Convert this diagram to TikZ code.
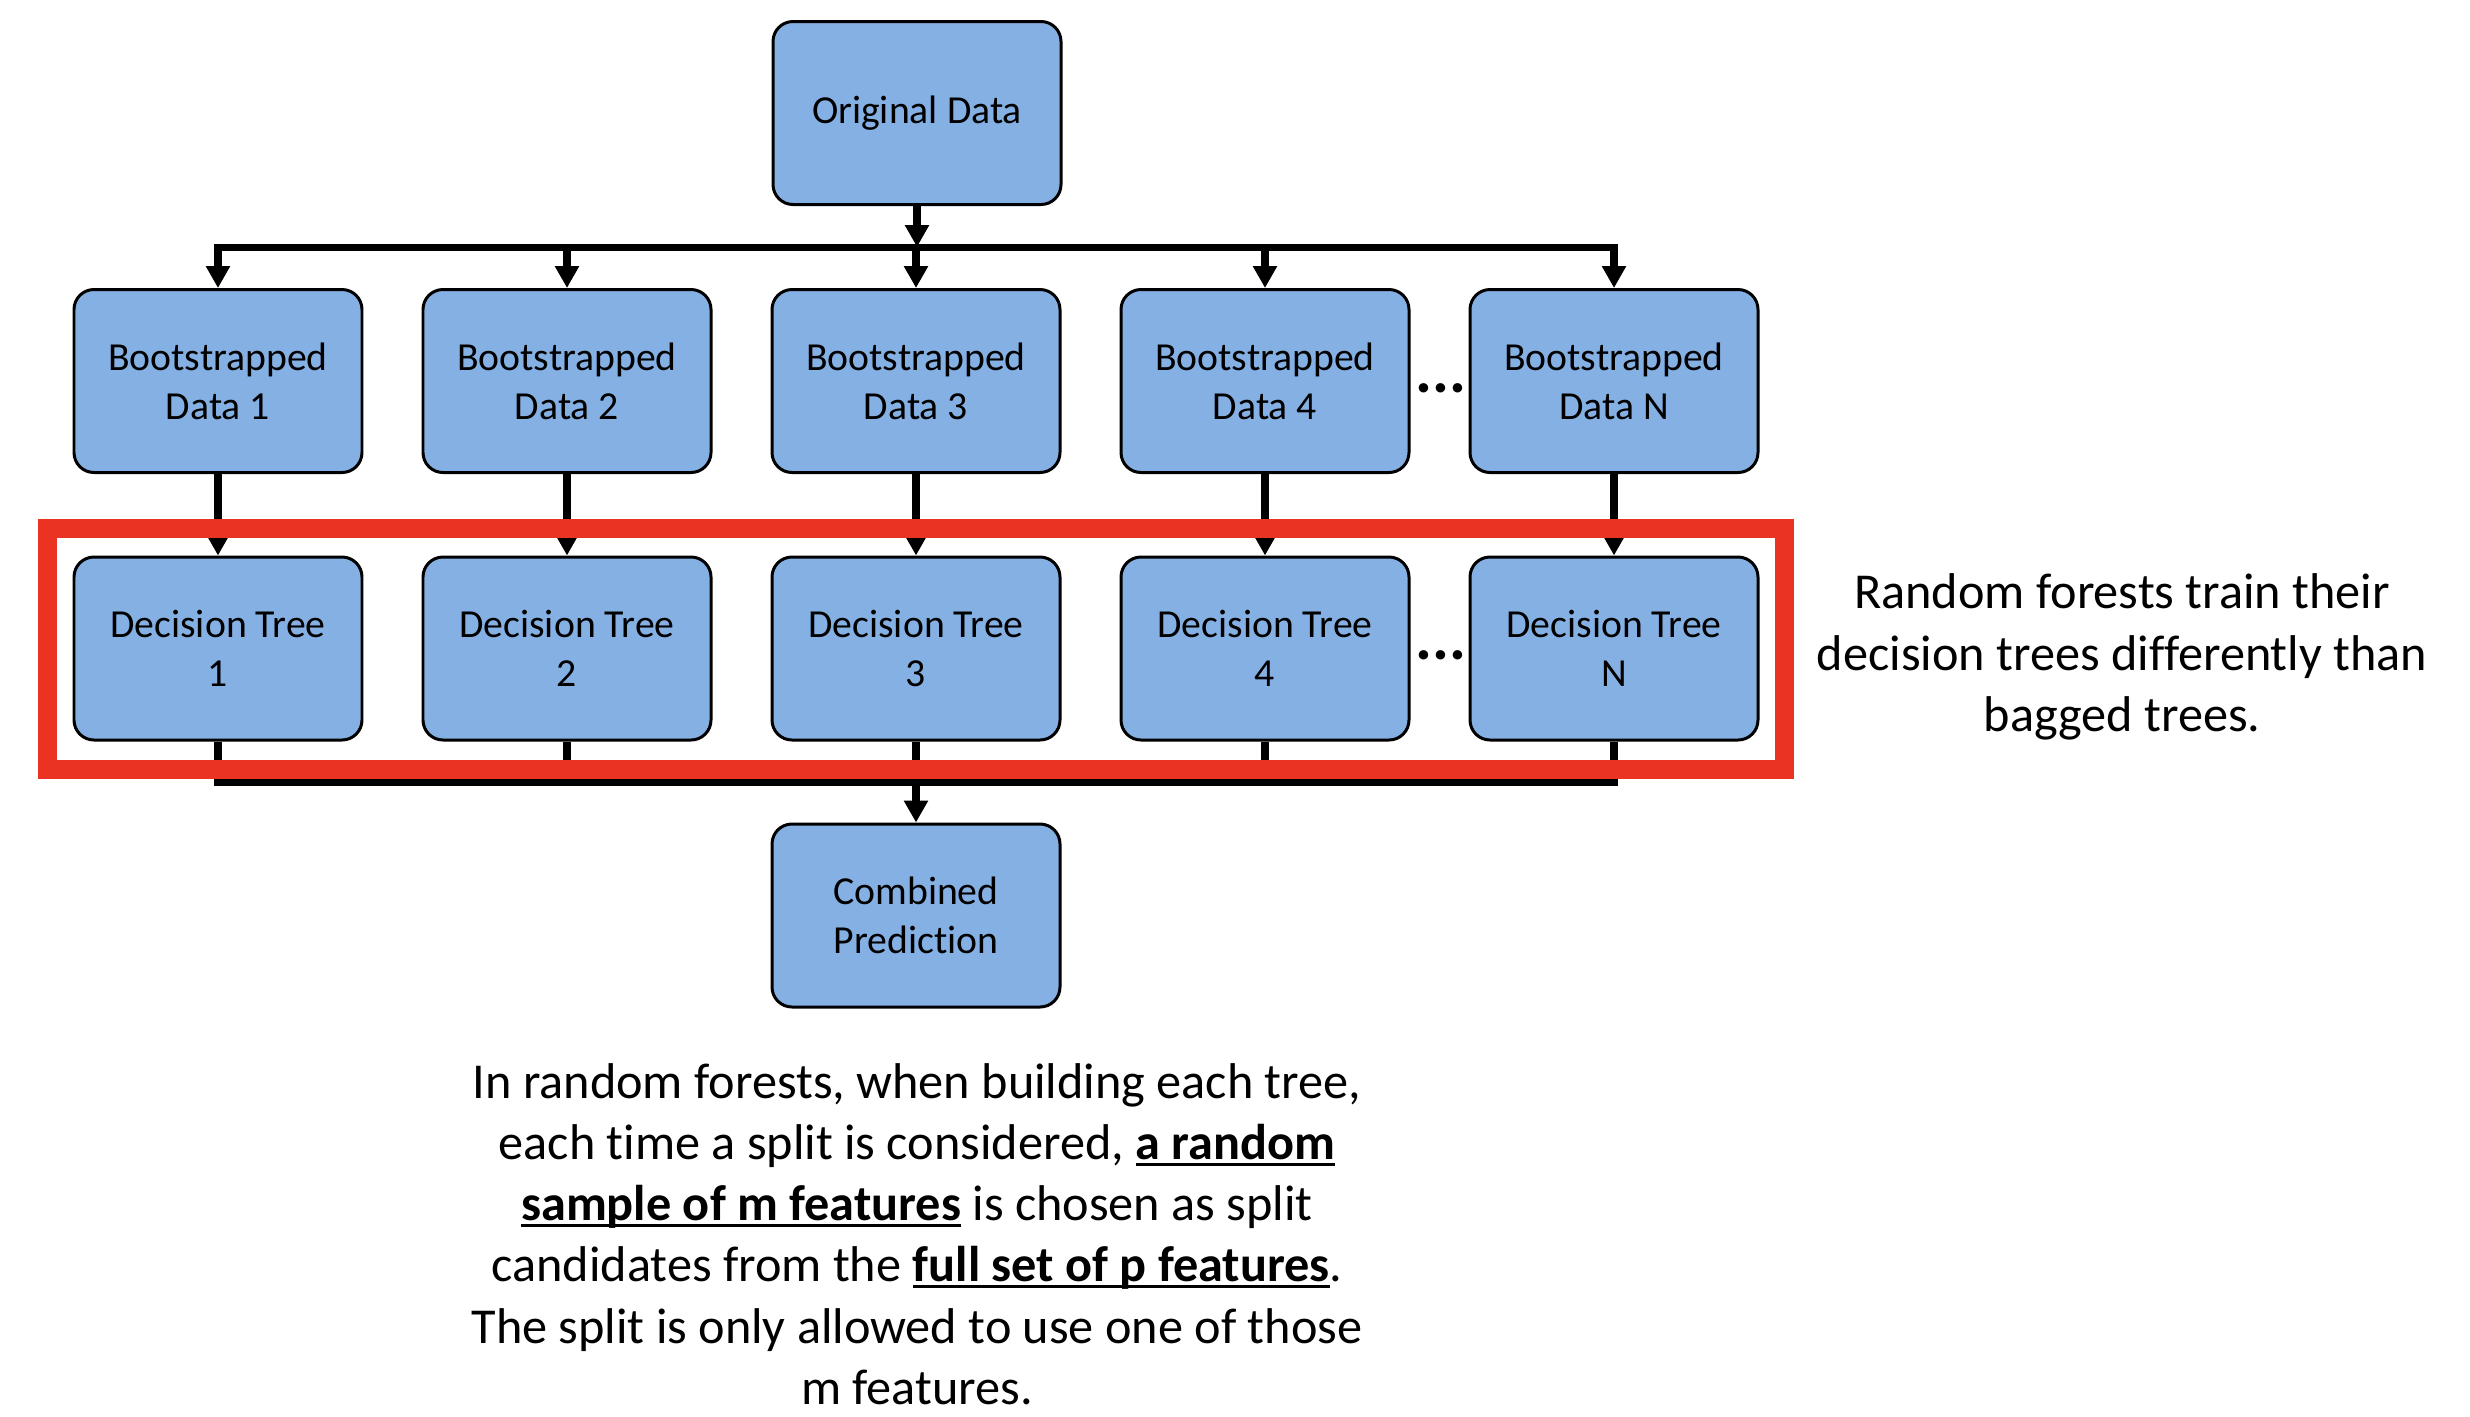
\documentclass[tikz,border=0pt]{standalone}
\usepackage{fontspec}
\setmainfont{Carlito}[Ligatures=NoCommon]
\usepackage{xcolor}
\usetikzlibrary{arrows.meta}
\definecolor{boxblue}{RGB}{133,176,227}
\definecolor{framered}{RGB}{234,51,35}
\newcommand{\bul}[1]{\leavevmode\setbox0\hbox{\textbf{#1}}\rlap{\rule[-0.13em]{\wd0}{0.9pt}}\box0\relax}
\tikzset{
  blk/.style={rectangle, rounded corners=0.2cm, line width=0.85pt, align=center,
              font=\fontsize{11.3}{13.9}\selectfont, inner sep=0pt},
  blueb/.style={blk, draw=black, fill=boxblue},
  pipe/.style={-{Triangle[length=2.2mm, width=2.3mm]}, line width=2pt, draw=black},
  wire/.style={line width=2pt, draw=black, line cap=rect},
  redframe/.style={draw=framered, line width=0.19cm},
  note/.style={align=center, font=\fontsize{14.3}{17.4}\selectfont, inner sep=0pt},
  gapdots/.style={font=\fontsize{18}{18}\selectfont\bfseries, inner sep=0pt},
}

\begin{document}
\begin{tikzpicture}[s/.style={minimum width=2.88cm, minimum height=1.83cm}]
  \useasboundingbox (0,0) rectangle (24.7,-14.16);
  \node[blueb, s] (orig) at (9.17,-1.13) {Original Data};
  \node[blueb, s] (boot1) at (2.18,-3.81)  {Bootstrapped\\Data 1};
  \node[blueb, s] (boot2) at (5.67,-3.81)  {Bootstrapped\\Data 2};
  \node[blueb, s] (boot3) at (9.16,-3.81)  {Bootstrapped\\Data 3};
  \node[blueb, s] (boot4) at (12.65,-3.81) {Bootstrapped\\Data 4};
  \node[blueb, s] (bootN) at (16.14,-3.81) {Bootstrapped\\Data N};
  \node[blueb, s] (tree1) at (2.18,-6.485)  {Decision Tree\\1};
  \node[blueb, s] (tree2) at (5.67,-6.485)  {Decision Tree\\2};
  \node[blueb, s] (tree3) at (9.16,-6.485)  {Decision Tree\\3};
  \node[blueb, s] (tree4) at (12.65,-6.485) {Decision Tree\\4};
  \node[blueb, s] (treeN) at (16.14,-6.485) {Decision Tree\\N};
  \node[blueb, s] (comb) at (9.16,-9.155) {Combined\\Prediction};
  \node[gapdots] (dotsb) at (14.41,-3.88) {...};
  \node[gapdots] (dotst) at (14.41,-6.55) {...};
  \coordinate (topbus) at (9.17,-2.47);
  \coordinate (botbus) at (9.16,-7.82);
  % top fan-out
  \draw[pipe] (orig) -- (topbus);
  \draw[wire] (boot1 |- topbus) -- (bootN |- topbus);
  \draw[pipe] (boot1 |- topbus) -- (boot1); \draw[pipe] (boot2 |- topbus) -- (boot2);
  \draw[pipe] (boot3 |- topbus) -- (boot3); \draw[pipe] (boot4 |- topbus) -- (boot4);
  \draw[pipe] (bootN |- topbus) -- (bootN);
  % bootstrapped data to trees
  \draw[pipe] (boot1) -- (tree1); \draw[pipe] (boot2) -- (tree2);
  \draw[pipe] (boot3) -- (tree3); \draw[pipe] (boot4) -- (tree4);
  \draw[pipe] (bootN) -- (treeN);
  % trees to combined prediction
  \draw[pipe] (tree1) -- (tree1 |- botbus); \draw[pipe] (tree2) -- (tree2 |- botbus);
  \draw[pipe] (tree3) -- (tree3 |- botbus); \draw[pipe] (tree4) -- (tree4 |- botbus);
  \draw[pipe] (treeN) -- (treeN |- botbus);
  \draw[wire] (tree1 |- botbus) -- (treeN |- botbus);
  \draw[pipe] (botbus) -- (comb);
  \draw[redframe] (0.47,-5.28) rectangle (17.84,-7.69);
  \node[note] (side) at (21.22,-6.57) {Random forests train their\\decision trees differently than\\bagged trees.};
  \node[note] (expl) at (9.17,-12.34) {In random forests, when building each tree,\\each time a split is considered, \bul{a random}\\\bul{sample of m features} is chosen as split\\candidates from the \bul{full set of p features}.\\The split is only allowed to use one of those\\m features.};
\end{tikzpicture}
\end{document}
